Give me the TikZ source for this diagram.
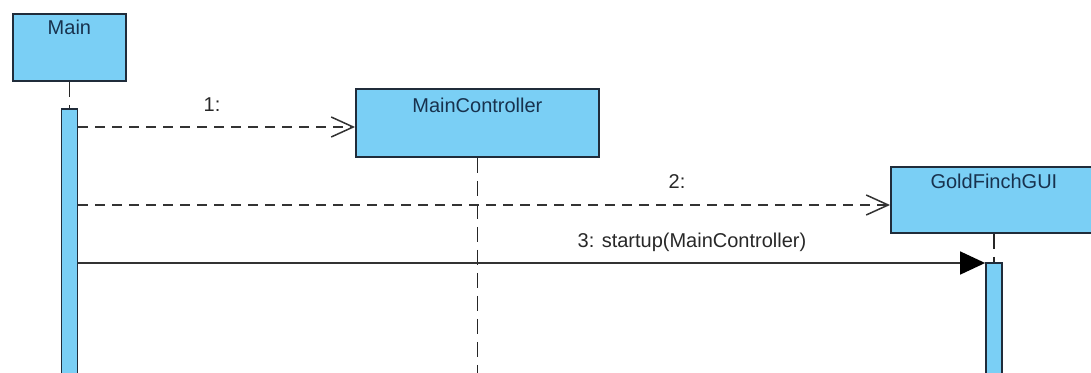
\documentclass[tikz,border=0pt]{standalone}
\usepackage{fontspec}
\setmainfont{Liberation Sans}
\usetikzlibrary{arrows.meta}
\definecolor{objfill}{RGB}{122,207,245}
\definecolor{objline}{RGB}{32,44,58}
\definecolor{objtext}{RGB}{24,50,78}
\definecolor{msgtext}{RGB}{40,40,40}
\tikzset{
  objbox/.style={draw=objline, line width=1.8pt, fill=objfill, rectangle, inner sep=0pt},
  objname/.style={text=objtext, font=\fontsize{20}{24}\selectfont, anchor=base},
  actbar/.style={draw=objline, line width=1.6pt, fill=objfill, rectangle, inner sep=0pt, minimum width=16pt},
  lifeline/.style={draw=black!85, line width=1.5pt, dash pattern=on 15pt off 8pt},
  msgasync/.style={draw=black!80, line width=1.5pt, dash pattern=on 10pt off 7pt,
    -{Straight Barb[length=22pt, width=20pt, line width=1.5pt]}},
  msgsync/.style={draw=black!80, line width=1.6pt, -{Triangle[length=25pt, width=23pt, fill=black, color=black]}},
  msglabel/.style={text=msgtext, font=\fontsize{20}{24}\selectfont, anchor=base},
}
\begin{document}
\begin{tikzpicture}[x=1pt, y=-1pt]
  \useasboundingbox (0,0) rectangle (1091,372);
  \clip (0,0) rectangle (1091,372);
  \fill[white] (0,0) rectangle (1091,372);

  % object boxes
  \node[objbox, minimum width=113pt, minimum height=67pt, anchor=north west] (main) at (12,13) {};
  \node[objname] (mainname) at ([yshift=-21pt]main.north) {Main};

  \node[objbox, minimum width=243pt, minimum height=68pt, anchor=north west] (ctrl) at (355,88) {};
  \node[objname] (ctrlname) at ([yshift=-24pt]ctrl.north) {MainController};

  \node[objbox, minimum width=206pt, minimum height=66pt, anchor=north west] (gui) at (890,166) {};
  \node[objname] (guiname) at ([yshift=-22pt]gui.north) {GoldFinchGUI};

  % activation bars
  \node[actbar, minimum height=280pt, anchor=north] (mainact) at (main.south |- 0,108) {};
  \node[actbar, minimum height=130pt, anchor=north] (guiact) at (gui.south |- 0,262) {};

  % lifelines
  \coordinate (ctrlend) at (ctrl.south |- 0,380);
  \draw[lifeline] (main.south) -- (mainact.north);
  \draw[lifeline] (ctrl.south) -- (ctrlend);
  \draw[lifeline] (gui.south) -- (guiact.north);

  % messages
  \draw[msgasync] (mainact.east |- 0,127) -- (ctrl.west |- 0,127);
  \node[msglabel] (l1) at (212,111) {1:};

  \draw[msgasync] (mainact.east |- 0,205) -- (gui.west |- 0,205);
  \node[msglabel] (l2) at (677,188) {2:};

  \draw[msgsync] (mainact.east |- 0,263) -- (guiact.west |- 0,263);
  \node[msglabel] (l3) at (692,247) {3: startup(MainController)};
\end{tikzpicture}
\end{document}
